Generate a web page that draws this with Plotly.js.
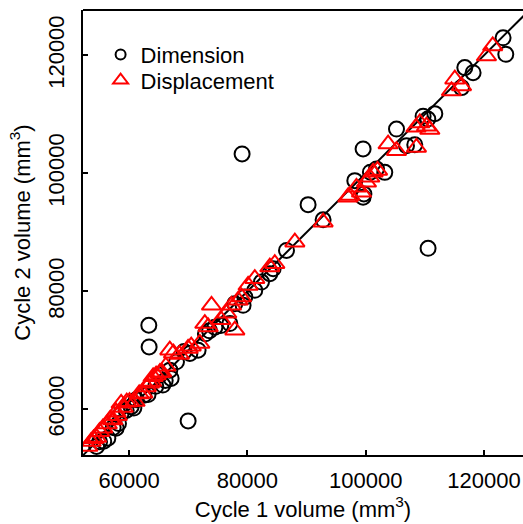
<!DOCTYPE html>
<html>
<head>
<meta charset="utf-8">
<script src="https://cdn.plot.ly/plotly-3.0.1.min.js"></script>
<style>
  html, body { margin: 0; padding: 0; background: #fff; }
  #chart { width: 523px; height: 524px; }
</style>
</head>
<body>
<div id="chart"></div>
<script>
// Volumes measured in cycle 1 vs cycle 2 (mm^3)
const dimCycle1 = [
  79100, 99560, 90260, 110550, 63330, 63380, 69975,
  54500, 55000, 55700, 56400, 57300, 57800, 58200, 58650, 59500, 60340,
  60800, 61200, 62500, 63200, 64500, 65700, 66100, 67100, 65190, 66880,
  68010, 69300, 70270, 71660, 72900, 73600, 74500, 75500, 77030, 77870,
  79270, 79560, 81250, 82380, 83790, 84350, 86610, 92800, 98160, 99560,
  99700, 100800, 101830, 103230, 106900, 108300, 105210, 109710, 111690,
  110500, 116200, 116760, 118160, 123230, 123690
];
const dimCycle2 = [
  103300, 104150, 94700, 87300, 74250, 70580, 58020,
  53700, 54500, 54600, 55100, 56900, 56800, 57600, 59320, 59800, 60440,
  60200, 61600, 62400, 62500, 63900, 64100, 64900, 65240, 65800, 66640,
  68050, 69800, 69460, 70020, 72800, 73300, 73900, 74200, 74540, 77910,
  77630, 79030, 80170, 81570, 82990, 83840, 86930, 92120, 98770, 95950,
  96500, 100200, 100740, 100170, 104700, 104860, 107510, 109700, 110130,
  109200, 114540, 117930, 117080, 122990, 120180
];

const dispCycle1 = [
  53020, 53580, 54000, 54500, 55000, 55550, 56300, 56800, 57240, 57800,
  58000, 58650, 59000, 59600, 60070, 61000, 61700, 62320, 62900, 63450,
  63800, 64060, 64560, 65200, 65500, 66200, 66880, 67500, 68500, 69970,
  70500, 71950, 72800, 73360, 73930, 77870, 75500, 76500, 77310, 78430,
  79000, 80120, 81250, 83790, 84630, 88020, 92800, 96980, 97310, 98440,
  99290, 100130, 100690, 101250, 102000, 103790, 105210, 108580, 109160,
  110280, 110840, 108500, 115070, 116200, 114510, 121480, 120420
];
const dispCycle2 = [
  53680, 54520, 55000, 55200, 56200, 56790, 57500, 58300, 58190, 59500,
  58900, 61010, 60300, 61200, 61280, 61300, 62600, 62700, 63800, 64400,
  64700, 65510, 65800, 66200, 66300, 67300, 70020, 69500, 69300, 70310,
  70700, 71160, 74540, 73970, 77630, 73410, 75200, 76300, 77630, 78480,
  79030, 81010, 82140, 84110, 84680, 88330, 91720, 95950, 96230, 97640,
  96790, 98480, 99330, 100170, 100500, 104960, 103840, 104400, 108560,
  107990, 107430, 107800, 115960, 114830, 113980, 121600, 119900
];

// Line of equality
const identityLine = [50000, 130000];

const xTicks = [60000, 80000, 100000, 120000];
const yTicks = [60000, 80000, 100000, 120000];
const xRange = [52200, 126600];
const yRange = [52250, 127700];

const fontFamily = 'Arial, "Liberation Sans", sans-serif';

const traces = [
  {
    x: identityLine, y: identityLine, mode: 'lines',
    line: { color: '#000', width: 2 }, showlegend: false, hoverinfo: 'skip'
  },
  {
    x: dimCycle1, y: dimCycle2, mode: 'markers', name: 'Dimension',
    showlegend: false,
    marker: { symbol: 'circle-open', size: 15, color: '#000', line: { width: 2, color: '#000' } }
  },
  {
    x: dispCycle1, y: dispCycle2, mode: 'markers', name: 'Displacement',
    showlegend: false,
    marker: { symbol: 'triangle-up-open', size: 17, color: '#ff0000', line: { width: 2, color: '#ff0000' } }
  },
  // legend entries with smaller symbols, one legend box each
  {
    x: [null], y: [null], mode: 'markers', name: 'Dimension', legend: 'legend',
    marker: { symbol: 'circle-open', size: 10, color: '#000', line: { width: 2, color: '#000' } }
  },
  {
    x: [null], y: [null], mode: 'markers', name: 'Displacement', legend: 'legend2',
    marker: { symbol: 'triangle-up-open', size: 13, color: '#ff0000', line: { width: 2, color: '#ff0000' } }
  }
];

const axisCommon = {
  showgrid: false, zeroline: false,
  showline: true, linecolor: '#000', linewidth: 2,
  ticks: 'inside', ticklen: 5, tickwidth: 2, tickcolor: '#000',
  tickfont: { family: fontFamily, size: 22, color: '#000' },
  tickformat: 'd'
};

const legendCommon = {
  xanchor: 'left', yanchor: 'top',
  bgcolor: 'rgba(0,0,0,0)', borderwidth: 0,
  font: { family: fontFamily, size: 22, color: '#000' }
};

const layout = {
  width: 523, height: 524,
  margin: { l: 83, r: 0, t: 10, b: 69 },
  paper_bgcolor: '#fff', plot_bgcolor: '#fff',
  font: { family: fontFamily, size: 22, color: '#000' },
  xaxis: Object.assign({}, axisCommon, {
    range: xRange, tickvals: xTicks, ticklabelstandoff: 5,
    title: { text: 'Cycle 1 volume (mm<sup>3</sup>)', font: { family: fontFamily, size: 22, color: '#000' }, standoff: 0 }
  }),
  yaxis: Object.assign({}, axisCommon, {
    range: yRange, tickvals: yTicks, tickangle: -90, ticklabelstandoff: 8,
    title: { text: 'Cycle 2 volume (mm<sup>3</sup>)', font: { family: fontFamily, size: 22, color: '#000' }, standoff: 8 }
  }),
  legend: Object.assign({}, legendCommon, { x: 0.04, y: 0.947 }),
  legend2: Object.assign({}, legendCommon, { x: 0.04, y: 0.889 }),
  shapes: [
    { type: 'line', xref: 'paper', yref: 'paper', x0: 0, x1: 1, y0: 1, y1: 1,
      line: { color: '#000', width: 2 } }
  ]
};

Plotly.newPlot('chart', traces, layout, { displayModeBar: false, staticPlot: true });
</script>
</body>
</html>
